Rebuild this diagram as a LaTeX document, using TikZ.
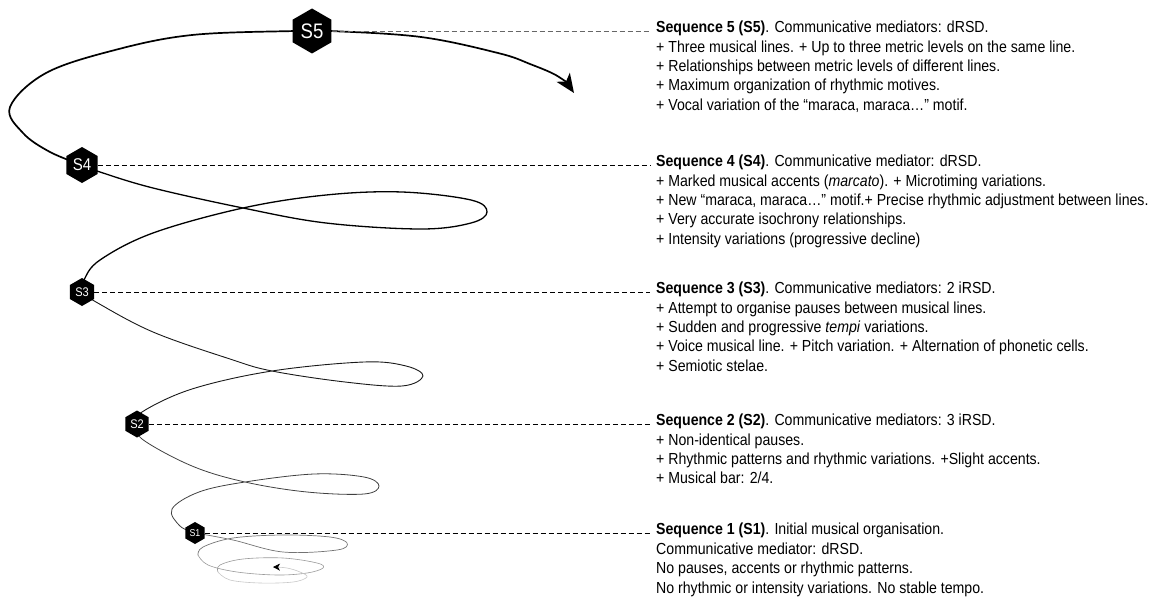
\documentclass[tikz,border=0pt]{standalone}
\usepackage{fontspec}
\setmainfont{Liberation Sans}[FakeStretch=0.883]
\usetikzlibrary{shapes.geometric,arrows.meta}

\begin{document}
\begin{tikzpicture}[x=1pt,y=-1pt,
  seqhex/.style={regular polygon,regular polygon sides=6,shape border rotate=30,
    fill=black,text=white,inner sep=0pt,minimum size=#1},
  guide/.style={dash pattern=on 5pt off 3pt,line width=0.7pt,shorten >=6pt},
  info/.style={anchor=north west,align=left,inner sep=0pt,
    font=\fontsize{16}{19.4}\selectfont},
  spire/.style={line width=#1,line cap=round,line join=round}]
\useasboundingbox (0,0) rectangle (1153,599);

\draw[spire=1.7pt,{Stealth[length=19pt,width=16pt,inset=5pt]}-] plot[smooth,tension=0.6] coordinates {(574,93) (559,77) (530,64) (498,53) (421,37) (330,31) (295,31) (192,35) (115,50) (46,73) (10,107) (23,133) (50,152) (82,165)};
\draw[spire=1.3pt] plot[smooth,tension=0.6] coordinates {(82,165) (100,172) (153,188) (243,208) (326,223) (421,229) (471,223) (487,212) (471,200) (402,192) (326,195) (243,208) (153,233) (100,260) (84,280) (82,292)};
\draw[spire=0.9pt,black!90] plot[smooth,tension=0.6] coordinates {(82,292) (96,302) (153,332) (230,359) (272,371) (345,382) (402,386) (423,376) (406,366) (364,362) (272,371) (192,389) (142,412) (137,424)};
\draw[spire=0.8pt,black!75] plot[smooth,tension=0.6] coordinates {(137,424) (142,439) (192,466) (245,482) (307,492) (364,494) (379,486) (364,477) (314,474) (245,482) (199,492) (172,509) (180,526) (195,533)};
\draw[spire=0.7pt,black!55] plot[smooth,tension=0.6] coordinates {(195,533) (233,540) (283,552) (337,550) (347,543) (330,537) (283,535) (233,538) (203,547) (198,555)};
\draw[spire=0.6pt,black!40] plot[smooth,tension=0.6] coordinates {(198,555) (208,565) (237,572) (277,575) (307,573) (323,568) (317,563) (283,558) (243,559) (220,565) (218,572)};
\draw[spire=0.6pt,black!22,-{Stealth[black,length=7pt,width=7pt,inset=2pt]}] plot[smooth,tension=0.6] coordinates {(218,572) (230,580) (260,583) (293,582) (307,577) (300,572) (287,568) (273,567)};

\node[seqhex=45pt,font=\fontsize{21}{21}\selectfont] (s5) at (312,31) {S5};
\node[seqhex=36pt,font=\fontsize{17}{17}\selectfont] (s4) at (82,165) {S4};
\node[seqhex=28pt,font=\fontsize{12.5}{12.5}\selectfont] (s3) at (82,292) {S3};
\node[seqhex=27pt,font=\fontsize{12.5}{12.5}\selectfont] (s2) at (137,424) {S2};
\node[seqhex=22pt,font=\fontsize{10}{10}\selectfont] (s1) at (195,533) {S1};

\node[info] (t5) at (656,21) {\textbf{Sequence 5 (S5)}. Communicative mediators: dRSD.\\
+ Three musical lines. + Up to three metric levels on the same line.\\
+ Relationships between metric levels of different lines.\\
+ Maximum organization of rhythmic motives.\\
+ Vocal variation of the “maraca, maraca…” motif.};
\node[info] (t4) at (656,155) {\textbf{Sequence 4 (S4)}. Communicative mediator: dRSD.\\
+ Marked musical accents (\textit{marcato}). + Microtiming variations.\\
+ New “maraca, maraca…” motif.+ Precise rhythmic adjustment between lines.\\
+ Very accurate isochrony relationships.\\
+ Intensity variations (progressive decline)};
\node[info] (t3) at (656,282) {\textbf{Sequence 3 (S3)}. Communicative mediators: 2 iRSD.\\
+ Attempt to organise pauses between musical lines.\\
+ Sudden and progressive \textit{tempi} variations.\\
+ Voice musical line. + Pitch variation. + Alternation of phonetic cells.\\
+ Semiotic stelae.};
\node[info] (t2) at (656,414) {\textbf{Sequence 2 (S2)}. Communicative mediators: 3 iRSD.\\
+ Non-identical pauses.\\
+ Rhythmic patterns and rhythmic variations. +Slight accents.\\
+ Musical bar: 2/4.};
\node[info] (t1) at (656,523) {\textbf{Sequence 1 (S1)}. Initial musical organisation.\\
Communicative mediator: dRSD.\\
No pauses, accents or rhythmic patterns.\\
No rhythmic or intensity variations. No stable tempo.};

\draw[guide,black!60] (s5.east) -- (s5.east -| t5.west);
\draw[guide] (s4.east) -- (s4.east -| t4.west);
\draw[guide] (s3.east) -- (s3.east -| t3.west);
\draw[guide] (s2.east) -- (s2.east -| t2.west);
\draw[guide] (s1.east) -- (s1.east -| t1.west);
\end{tikzpicture}
\end{document}
